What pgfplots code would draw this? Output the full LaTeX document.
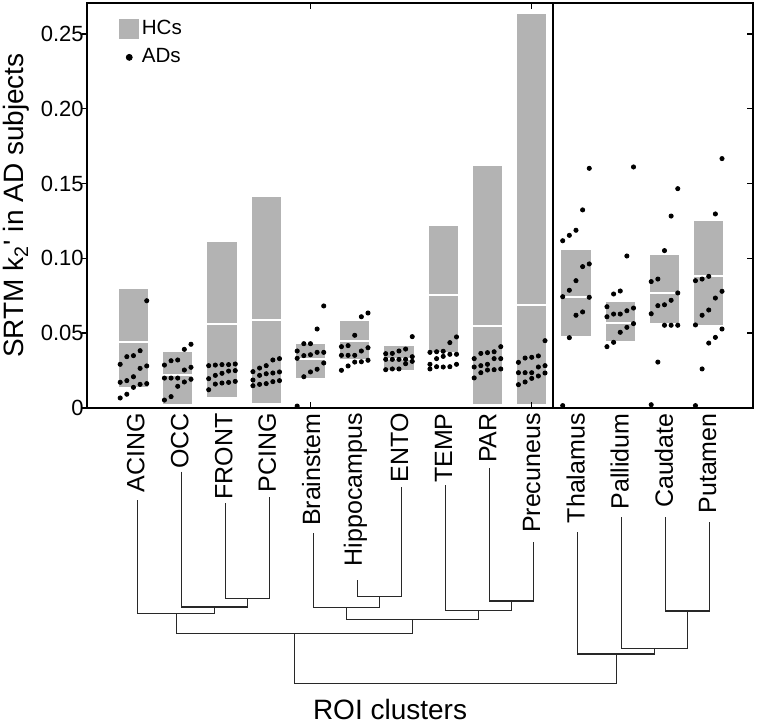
\documentclass[border=0pt]{standalone}
\usepackage{fontspec}
\setmainfont{Liberation Sans}
\usepackage{pgfplots}
\usepackage{pgfplotstable}
\pgfplotsset{compat=1.18}
\definecolor{hcgray}{RGB}{179,179,179}
\definecolor{dendro}{RGB}{40,40,40}
\newcommand{\fs}[1]{\fontsize{#1}{#1}\selectfont}
\newcommand\hcbar[4]{%
  \pgfmathsetmacro\xl{#1-0.33}\pgfmathsetmacro\xr{#1+0.33}%
  \edef\doit{\noexpand\addplot[fill=hcgray,draw=none,forget plot] coordinates {(\xl,#2) (\xr,#2) (\xr,#4) (\xl,#4)} -- cycle;
  \noexpand\addplot[white,line width=1pt,forget plot] coordinates {(\xl,#3) (\xr,#3)};}%
  \doit}

\pgfplotstableread{
x y
1.3 0.0717
1.15 0.0383
0.85 0.0343
1 0.035
0.7 0.0292
1.3 0.0281
1.15 0.0265
1 0.0209
0.85 0.0183
0.7 0.0172
1.3 0.0163
1.15 0.0158
1 0.0138
0.85 0.0092
0.7 0.0067
2.3 0.0426
2.15 0.0392
2 0.0321
1.85 0.0316
1.7 0.0287
2.3 0.0272
2.15 0.0254
1.7 0.0200
1.85 0.0200
2 0.0200
2.3 0.0192
2.15 0.0174
2 0.0145
1.85 0.0076
1.7 0.0053
2.7 0.0283
2.85 0.0287
3 0.029
3.15 0.029
3.3 0.0294
2.7 0.0196
2.85 0.0218
3 0.0232
3.15 0.0247
3.3 0.025
2.7 0.0122
2.85 0.016
3 0.0167
3.15 0.0171
3.3 0.0178
4.15 0.0321
4.3 0.033
3.7 0.0243
3.85 0.0267
4 0.0283
3.7 0.0187
3.85 0.0218
4 0.0229
4.15 0.0234
4.3 0.0241
3.7 0.0149
3.85 0.0158
4 0.0163
4.15 0.0176
4.3 0.0183
5.3 0.0682
5.15 0.0528
4.85 0.043
5 0.043
4.7 0.0381
5.15 0.0372
5.3 0.0372
5 0.0356
4.85 0.035
4.7 0.0332
5.3 0.0301
5.15 0.0259
5 0.0241
4.85 0.0209
4.7 0.0013
6.3 0.0635
6.15 0.061
6 0.0486
5.7 0.041
5.85 0.0417
6.3 0.0403
6.15 0.0381
5.7 0.0352
5.85 0.0352
6 0.0352
6 0.0307
6.15 0.0309
6.3 0.0319
5.85 0.0281
5.7 0.0252
7.3 0.0477
7.15 0.0394
7 0.0381
6.7 0.0363
6.85 0.0365
7.3 0.0343
6.7 0.0325
6.85 0.0325
7 0.0325
7.15 0.0325
7.3 0.0312
7.15 0.0296
6.7 0.0256
6.85 0.0261
7 0.0261
8.3 0.0475
8.15 0.0437
7.7 0.0372
7.85 0.0376
8 0.0379
8.15 0.0359
8.3 0.0359
8 0.0345
7.85 0.033
7.7 0.0292
8.3 0.0292
7.85 0.0276
8 0.0274
8.15 0.0276
7.7 0.0261
9.3 0.041
8.85 0.0365
9 0.037
9.15 0.0376
8.7 0.033
9.15 0.033
9.3 0.033
8.85 0.0283
9 0.0292
8.7 0.0274
9.3 0.0261
8.85 0.0236
9 0.0254
9.15 0.0256
8.7 0.0201
10.3 0.045
9.85 0.0334
10 0.0339
10.15 0.0348
9.7 0.0305
10.3 0.0283
10.15 0.0274
9.7 0.0236
9.85 0.0236
10 0.0236
10.3 0.0234
10.15 0.0214
10 0.0198
9.85 0.0174
9.7 0.0156
11.3 0.1602
11.15 0.1324
11 0.1188
10.85 0.1154
10.7 0.1118
11.3 0.0963
11.15 0.0945
11 0.0851
10.85 0.0787
10.7 0.0744
11.3 0.074
11.15 0.0642
11 0.062
10.85 0.047
10.7 0.0016
12.3 0.1611
12.15 0.1016
12 0.0782
11.85 0.0762
11.7 0.0677
12.3 0.0668
12.15 0.065
11.85 0.0628
12 0.0628
11.7 0.061
12.3 0.0564
12.15 0.0539
12 0.0506
11.85 0.0439
11.7 0.041
13.3 0.1466
13.15 0.1283
13 0.1052
12.7 0.0845
12.85 0.0862
13.3 0.0769
13.15 0.072
12.85 0.0684
13 0.069
12.7 0.063
13 0.0553
13.15 0.0553
13.3 0.0553
12.85 0.0307
12.7 0.0022
14.3 0.1667
14.15 0.1297
14 0.088
13.85 0.0862
13.7 0.0851
14.3 0.078
14.15 0.0735
14 0.0655
13.85 0.062
13.7 0.0555
14.3 0.0528
14.15 0.0472
14 0.0434
13.85 0.0261
13.7 0.0016
}\addata

\begin{document}
\begin{tikzpicture}
\begin{axis}[scale only axis, width=333pt, height=202.5pt,
  xmin=-0.05, xmax=15, ymin=0, ymax=0.2707, clip=false,
  axis line style={line width=1.35pt},
  xtick=\empty,
  ytick={0,0.05,0.1,0.15,0.2,0.25}, yticklabels={0,0.05,0.10,0.15,0.20,0.25},
  ytick pos=left, tick align=outside, major tick length=2.5pt,
  tick style={black,line width=0.7pt},
  yticklabel style={font=\fs{11}, inner sep=0pt, xshift=1pt},
  ylabel={SRTM k\textsubscript{2}\textquotesingle{} in AD subjects},
  ylabel style={font=\fs{14}, at={(axis description cs:-0.1261,0.5)}, anchor=north, inner sep=0pt},
  xlabel={ROI clusters},
  xlabel style={font=\fs{14}, at={(axis description cs:0.455,-0.768)}, anchor=base, inner sep=0pt},
  legend style={at={(axis description cs:0.048,0.965)}, anchor=north west, draw=none, fill=none,
    inner sep=0pt, row sep=3pt, nodes={inner sep=1.3pt}},
  legend cell align=left,
]
\addlegendimage{legend image code/.code={\fill[hcgray] (0pt,-4.75pt) rectangle (9.5pt,4.75pt);}}
\addlegendentry{\fs{10.3}HCs}
\addlegendimage{only marks, mark=*, mark size=1.5pt, black,
  legend image code/.code={\draw[mark repeat=2,mark phase=2] plot coordinates {(0pt,0pt) (4.75pt,0pt) (9.5pt,0pt)};}}
\addlegendentry{\fs{10.3}ADs}

\hcbar{1}{0.0138}{0.0439}{0.0797}
\hcbar{2}{0.0025}{0.0219}{0.0372}
\hcbar{3}{0.0074}{0.0561}{0.111}
\hcbar{4}{0.0036}{0.0586}{0.141}
\hcbar{5}{0.0198}{0.0328}{0.0426}
\hcbar{6}{0.0326}{0.0448}{0.0584}
\hcbar{7}{0.0252}{0.0330}{0.0414}
\hcbar{8}{0.0376}{0.0755}{0.1219}
\hcbar{9}{0.0025}{0.055}{0.162}
\hcbar{10}{0.0025}{0.0689}{0.2636}
\hcbar{11}{0.0479}{0.074}{0.1058}
\hcbar{12}{0.0446}{0.057}{0.0709}
\hcbar{13}{0.0568}{0.0766}{0.1025}
\hcbar{14}{0.0556}{0.0882}{0.1248}

\addplot[only marks, mark=*, mark size=1.05pt, black, forget plot] table {\addata};

\addplot[black, line width=1pt, forget plot] coordinates {(10.48,0) (10.48,0.2707)};

% dendrogram
\addplot[dendro, line width=0.6pt, forget plot] coordinates {(3.085,-0.0635) (3.085,-0.1272) (4.068,-0.1272) (4.068,-0.0595)};
\addplot[dendro, line width=0.6pt, forget plot] coordinates {(2.09,-0.0426) (2.09,-0.133) (3.577,-0.133) (3.577,-0.1272)};
\addplot[dendro, line width=0.6pt, forget plot] coordinates {(1.098,-0.0615) (1.098,-0.1372) (2.833,-0.1372) (2.833,-0.133)};
\addplot[dendro, line width=0.6pt, forget plot] coordinates {(6.063,-0.115) (6.063,-0.1261) (7.055,-0.1261) (7.055,-0.0528)};
\addplot[dendro, line width=0.6pt, forget plot] coordinates {(5.06,-0.0836) (5.06,-0.1332) (6.559,-0.1332) (6.559,-0.1261)};
\addplot[dendro, line width=0.6pt, forget plot] coordinates {(9.05,-0.0401) (9.05,-0.129) (10.045,-0.129) (10.045,-0.0896)};
\addplot[dendro, line width=0.6pt, forget plot] coordinates {(8.05,-0.0515) (8.05,-0.1355) (9.548,-0.1355) (9.548,-0.129)};
\addplot[dendro, line width=0.6pt, forget plot] coordinates {(5.81,-0.1332) (5.81,-0.1412) (8.799,-0.1412) (8.799,-0.1355)};
\addplot[dendro, line width=0.6pt, forget plot] coordinates {(1.966,-0.1372) (1.966,-0.1506) (7.304,-0.1506) (7.304,-0.1412)};
\addplot[dendro, line width=0.6pt, forget plot] coordinates {(13.03,-0.0729) (13.03,-0.1357) (14.018,-0.1357) (14.018,-0.0762)};
\addplot[dendro, line width=0.6pt, forget plot] coordinates {(12.03,-0.0729) (12.03,-0.1606) (13.524,-0.1606) (13.524,-0.1357)};
\addplot[dendro, line width=0.6pt, forget plot] coordinates {(11.037,-0.0829) (11.037,-0.1644) (12.777,-0.1644) (12.777,-0.1606)};
\addplot[dendro, line width=0.6pt, forget plot] coordinates {(4.635,-0.1506) (4.635,-0.184) (11.907,-0.184) (11.907,-0.1644)};

\begin{scope}[every node/.style={rotate=90, anchor=east, inner sep=0pt, font=\fs{12.5}}]
\node at ([yshift=-2.5pt]axis cs:1.053,0) {ACING};
\node at ([yshift=-2.5pt]axis cs:2.045,0) {OCC};
\node at ([yshift=-2.5pt]axis cs:3.04,0) {FRONT};
\node at ([yshift=-2.5pt]axis cs:4.023,0) {PCING};
\node at ([yshift=-2.5pt]axis cs:5.015,0) {Brainstem};
\node at ([yshift=-2.5pt]axis cs:6.018,0) {Hippocampus};
\node at ([yshift=-2.5pt]axis cs:7.01,0) {ENTO};
\node at ([yshift=-2.5pt]axis cs:8.005,0) {TEMP};
\node at ([yshift=-2.5pt]axis cs:9.005,0) {PAR};
\node at ([yshift=-2.5pt]axis cs:10.0,0) {Precuneus};
\node at ([yshift=-2.5pt]axis cs:10.992,0) {Thalamus};
\node at ([yshift=-2.5pt]axis cs:11.985,0) {Pallidum};
\node at ([yshift=-2.5pt]axis cs:12.985,0) {Caudate};
\node at ([yshift=-2.5pt]axis cs:13.973,0) {Putamen};
\end{scope}
\end{axis}

\begin{axis}[scale only axis, width=333pt, height=202.5pt,
  xmin=-0.05, xmax=15, ymin=0, ymax=0.2707,
  axis line style={draw=none},
  xtick={5,10}, xtick pos=both, xticklabels={},
  ytick={0.05,0.1,0.15,0.2,0.25}, ytick pos=right, yticklabels={},
  tick align=inside, major tick length=2.8pt,
  tick style={black,line width=0.7pt},
]
\end{axis}
\pgfresetboundingbox
\useasboundingbox (-43.5pt,-158pt) rectangle (335pt,204pt);
\end{tikzpicture}
\end{document}
